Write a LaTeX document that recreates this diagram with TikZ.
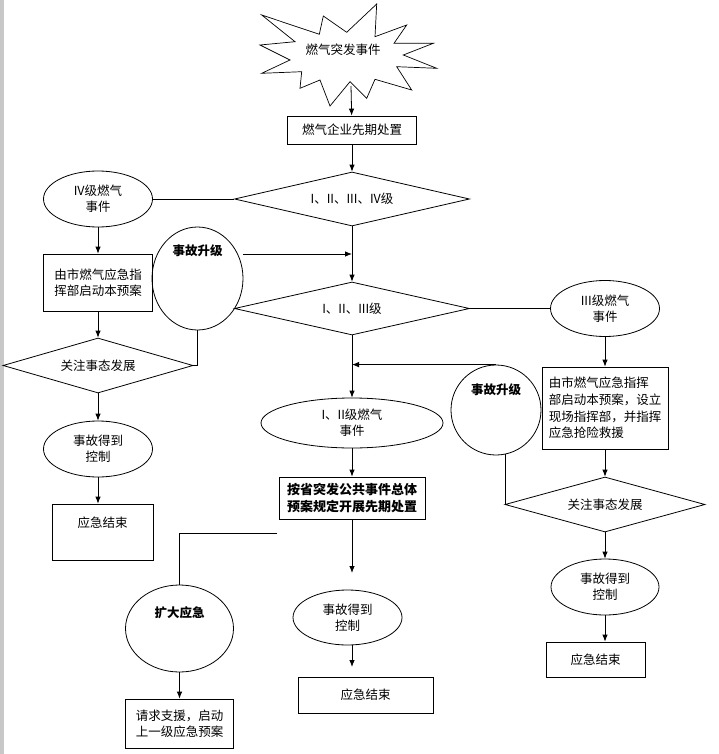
\documentclass[tikz,border=0pt]{standalone}
\usepackage{fontspec}
\setmainfont{Noto Sans CJK SC}
\usetikzlibrary{shapes.geometric,arrows.meta}
\definecolor{barGray}{RGB}{200,200,200}

\begin{document}
\begin{tikzpicture}[x=1pt,y=-1pt,
    line width=0.8pt,
    >={Latex[length=7pt,width=5.5pt]},
    font=\fontsize{12.5}{16}\selectfont,
    procbox/.style={draw,rectangle,inner sep=0pt,align=center},
    evoval/.style={draw,ellipse,inner sep=0pt,align=center},
    gate/.style={draw,diamond,inner sep=0pt,aspect=4,align=center}]

  \useasboundingbox (0,0) rectangle (718,754);

  \fill[barGray] (0,0) rectangle (3.5,754);



  \draw[line width=0.7pt] (261.7,15) -- (319.3,34.3) -- (323.3,16) -- (346.7,32.3)
    -- (376.7,4) -- (375,36.7) -- (406.7,25) -- (394,43.3) -- (433.3,43.3)
    -- (403.3,55) -- (436.7,68.3) -- (396.7,66.7) -- (411.7,90) -- (375,79.3)
    -- (366.7,98.3) -- (350,81.7) -- (330,106) -- (320,80) -- (300,88.3)
    -- (301.7,71.7) -- (261.7,73.3) -- (290,60) -- (260,45) -- (295,41.7) -- cycle;

  \node (burst) at (343,50) {燃气突发事件};

  \coordinate (burstfoot) at (351,86);



  \node[procbox,minimum width=129pt,minimum height=28pt] (firstaid) at (352,130) {燃气企业先期处置};

  \node[gate,minimum width=235pt,minimum height=54pt] (gradeall) at (352,199) {I、II、III、IV级};

  \node[gate,minimum width=235pt,minimum height=53pt] (gradetop) at (352,308.5) {I、II、III级};

  \coordinate (joinleft) at (352,254);



  \node[evoval,minimum width=109pt,minimum height=56pt] (gradefour) at (98,199) {IV级燃气\\事件};

  \node[procbox,minimum width=109pt,minimum height=57pt] (cityplan) at (98,282.5) {由市燃气应急指\\挥部启动本预案};

  \node[evoval,minimum width=91pt,minimum height=103pt,
    label={[yshift=28pt,font=\fontsize{12.5}{16}\selectfont\bfseries]center:事故升级}] (escalleft) at (197.5,278.5) {};

  \node[gate,minimum width=190pt,minimum height=55pt] (watchleft) at (98,365.5) {关注事态发展};

  \node[evoval,minimum width=109pt,minimum height=56pt] (ctrlleft) at (98,449) {事故得到\\控制};

  \node[procbox,minimum width=101pt,minimum height=56pt,
    label={[yshift=9pt]center:应急结束}] (endleft) at (102.5,532) {};



  \node[evoval,minimum width=109pt,minimum height=56pt] (gradethree) at (605,308.5) {III级燃气\\事件};

  \node[procbox,minimum width=126pt,minimum height=82pt,align=left,
    font=\fontsize{12.5}{16.7}\selectfont] (citysite) at (605,408)
    {由市燃气应急指挥\\部启动本预案，设立\\现场指挥部，并指挥\\应急抢险救援};

  \node[evoval,minimum width=90pt,minimum height=90pt,
    label={[yshift=20pt,font=\fontsize{12.5}{16}\selectfont\bfseries]center:事故升级}] (escalright) at (496,410) {};

  \node[gate,minimum width=200pt,minimum height=55pt] (watchright) at (605,504.5) {关注事态发展};

  \node[evoval,minimum width=108pt,minimum height=56pt] (ctrlright) at (605,587) {事故得到\\控制};

  \node[procbox,minimum width=99pt,minimum height=35pt] (endright) at (595.5,659.5) {应急结束};



  \node[evoval,minimum width=182pt,minimum height=50pt] (gradeone) at (352,423) {I、II级燃气\\事件};

  \node[procbox,minimum width=146pt,minimum height=42pt,
    font=\fontsize{13}{17}\selectfont\bfseries] (provplan) at (352,498)
    {按省突发公共事件总体\\预案规定开展先期处置};

  \coordinate (midstub) at (352,573);

  \node[evoval,minimum width=109pt,minimum height=55pt] (ctrlmid) at (347.5,617.5) {事故得到\\控制};

  \coordinate (endstub) at (352,667);

  \node[procbox,minimum width=135pt,minimum height=36pt] (endmid) at (365.5,695) {应急结束};

  \coordinate (branchfoot) at (277,533);

  \node[evoval,minimum width=108pt,minimum height=87pt,
    label={[yshift=16pt,font=\fontsize{12.5}{16}\selectfont\bfseries]center:扩大应急}] (expand) at (179.5,628.5) {};

  \node[procbox,minimum width=108pt,minimum height=49pt] (askhelp) at (179.5,723.5) {请求支援，启动\\上一级应急预案};



  \draw[->] (burstfoot) -- (firstaid);

  \draw[->] (firstaid) -- (gradeall);

  \draw (gradefour) -- (gradeall);

  \draw[->] (gradeall) -- (gradetop);

  \draw[->] (escalleft.east |- joinleft) -- (joinleft);

  \draw[->] (gradefour) -- (cityplan);

  \draw (escalleft.south) |- (watchleft.east);

  \draw[->] (cityplan) -- (watchleft);

  \draw[->] (watchleft) -- (ctrlleft);

  \draw[->] (ctrlleft) -- (ctrlleft |- endleft.north);



  \draw (gradetop) -- (gradethree);

  \draw[->] (gradethree) -- (citysite);

  \draw[->] (escalright.north) -- (escalright.north -| gradetop.south);

  \draw (escalright.-78) |- (watchright.west);

  \draw[->] (citysite) -- (watchright);

  \draw[->] (watchright) -- (ctrlright);

  \draw[->] (ctrlright) -- (ctrlright |- endright.north);



  \draw[->] (gradetop) -- (gradeone);

  \draw[->] (gradeone) -- (provplan);

  \draw[->] (provplan) -- (midstub);

  \draw[->] (midstub |- ctrlmid.south) -- (endstub);

  \draw (branchfoot) -| (expand);

  \draw[->] (expand) -- (askhelp);

\end{tikzpicture}
\end{document}
